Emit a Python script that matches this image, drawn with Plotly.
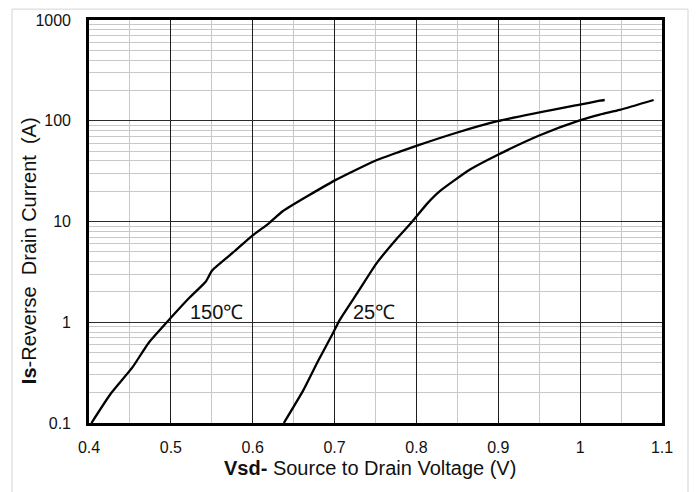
import plotly.graph_objects as go
import numpy as np

# ---- data ----
v_150 = [0.403, 0.4265, 0.453, 0.473, 0.4997, 0.522, 0.5425, 0.5506, 0.579, 0.5995, 0.6198,
         0.637, 0.7004, 0.749, 0.7797, 0.799, 0.849, 0.899, 0.9995, 1.024, 1.030]
i_150 = [0.1, 0.195, 0.356, 0.627, 1.10, 1.73, 2.52, 3.28, 5.16, 7.24, 9.6,
         12.7, 25.6, 39.9, 49.3, 56.0, 76.0, 99.0, 144.5, 158.0, 160.7]

v_25 = [0.638, 0.6617, 0.680, 0.6983, 0.7065, 0.7288, 0.751, 0.7757, 0.795, 0.8123,
        0.8286, 0.865, 0.899, 0.9507, 0.9995, 1.024, 1.0483, 1.0898]
i_25 = [0.1, 0.211, 0.415, 0.786, 1.06, 2.01, 3.82, 6.71, 10.0, 14.8,
        20.0, 32.6, 45.7, 71.8, 100.7, 115.0, 128.0, 160.7]

x_ticks = [0.4, 0.5, 0.6, 0.7, 0.8, 0.9, 1.0, 1.1]
x_ticktext = ["0.4", "0.5", "0.6", "0.7", "0.8", "0.9", "1", "1.1"]
y_ticks = [0.1, 1, 10, 100, 1000]
y_ticktext = ["0.1", "1", "10", "100", "1000"]

curve_labels = ["150\u2103", "25\u2103"]
label_x = [0.5563, 0.748]
label_y = [1.26, 1.25]

W, H = 696, 492
L, R, T, B = 89, 34, 15, 69
pw, ph = W - L - R, H - T - B

def px_to_paper_x(px):
    return (px - L) / pw

def px_to_paper_y(py):
    return (H - B - py) / ph

FONT = "Liberation Sans, Arial, sans-serif"

fig = go.Figure()
for xs, ys in [(v_150, i_150), (v_25, i_25)]:
    fig.add_trace(go.Scatter(x=xs, y=ys, mode="lines",
                             line=dict(color="black", width=2.3, shape="spline", smoothing=0.5),
                             showlegend=False, hoverinfo="skip"))

minor_y = []
for d in [0.1, 1, 10, 100]:
    for k in range(2, 10):
        minor_y.append(d * k)
minor_x = [0.45, 0.55, 0.65, 0.75, 0.85, 0.95, 1.05]

for txt, lx, ly in zip(curve_labels, label_x, label_y):
    fig.add_annotation(x=lx, y=np.log10(ly), xref="x", yref="y", text=txt,
                       showarrow=False, font=dict(family=FONT, size=20, color="#111111"),
                       xanchor="center", yanchor="middle")

fig.add_annotation(xref="paper", yref="paper", x=px_to_paper_x(370), y=px_to_paper_y(469),
                   text="<b>Vsd-</b> Source to Drain Voltage (V)", showarrow=False,
                   font=dict(family=FONT, size=20, color="#111111"),
                   xanchor="center", yanchor="middle")
fig.add_annotation(xref="paper", yref="paper", x=px_to_paper_x(29), y=px_to_paper_y(249),
                   text="<b>Is</b>-Reverse\u00a0 Drain Current\u00a0 (A)", showarrow=False,
                   textangle=-90, font=dict(family=FONT, size=20, color="#111111"),
                   xanchor="center", yanchor="middle")

# outer light frame
fig.add_shape(type="rect", xref="paper", yref="paper",
              x0=px_to_paper_x(12), x1=px_to_paper_x(688),
              y0=px_to_paper_y(500), y1=px_to_paper_y(4),
              line=dict(color="#d4d4d4", width=1), fillcolor="rgba(0,0,0,0)", layer="below")

fig.update_xaxes(range=[0.4, 1.1], tickmode="array", tickvals=x_ticks, ticktext=x_ticktext,
                 showgrid=True, gridcolor="#1e1e1e", gridwidth=1.2,
                 minor=dict(tickmode="array", tickvals=minor_x, showgrid=True,
                            gridcolor="#c8c8c8", gridwidth=1.3, ticks=""),
                 showline=True, linecolor="black", linewidth=2.6, mirror=True,
                 ticks="", ticklabelstandoff=8, zeroline=False,
                 tickfont=dict(family=FONT, size=16, color="#111111"))
fig.update_yaxes(type="log", range=[-1, 3], tickmode="array", tickvals=y_ticks, ticktext=y_ticktext,
                 showgrid=True, gridcolor="#2a2a2a", gridwidth=1.2,
                 minor=dict(tickmode="array", tickvals=minor_y, showgrid=True,
                            gridcolor="#c8c8c8", gridwidth=1.3, ticks=""),
                 showline=True, linecolor="black", linewidth=2.6, mirror=True,
                 ticks="", ticklabelstandoff=12, zeroline=False,
                 tickfont=dict(family=FONT, size=16, color="#111111"))

fig.update_layout(width=W, height=H, margin=dict(l=L, r=R, t=T, b=B),
                  paper_bgcolor="white", plot_bgcolor="white")

fig.write_html("out.html", config={"displayModeBar": False},
               post_script="document.body.style.margin='0px';")
